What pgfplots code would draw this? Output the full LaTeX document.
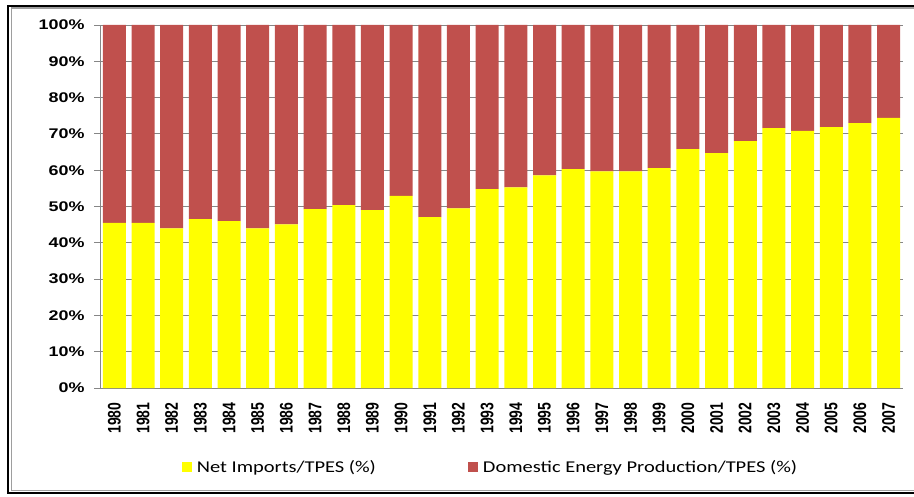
\documentclass[border=0pt]{standalone}
\usepackage{fontspec}
\usepackage{graphicx}
\usepackage{pgfplots}
\usepackage{pgfplotstable}
\pgfplotsset{compat=1.18}
\setmainfont{Liberation Sans}
\newfontfamily\tickfont[FakeStretch=1.28]{Liberation Sans}
\newfontfamily\legfont[FakeStretch=1.24]{Carlito}
\definecolor{redb}{HTML}{C0504D}
\definecolor{yel}{HTML}{FFFF00}
\definecolor{gridg}{HTML}{868686}

\pgfplotstableread{
year imports domestic
1980 45.5 54.5
1981 45.5 54.5
1982 44.0 56.0
1983 46.5 53.5
1984 46.0 54.0
1985 44.0 56.0
1986 45.1 54.9
1987 49.3 50.7
1988 50.4 49.6
1989 49.0 51.0
1990 52.9 47.1
1991 47.1 52.9
1992 49.5 50.5
1993 54.8 45.2
1994 55.3 44.7
1995 58.6 41.4
1996 60.3 39.7
1997 59.7 40.3
1998 59.7 40.3
1999 60.6 39.4
2000 65.8 34.2
2001 64.7 35.3
2002 68.0 32.0
2003 71.6 28.4
2004 70.8 29.2
2005 71.9 28.1
2006 73.0 27.0
2007 74.4 25.6
}\datatable

\begin{document}
\begin{tikzpicture}[x=1pt,y=1pt]
\useasboundingbox (0,0) rectangle (914,496);
\draw[black, line width=2pt] (8,3) rectangle (930,490);
\draw[gridg!80, line width=1.2pt] (11.5,5.5) rectangle (930,488);
\begin{axis}[
  at={(100pt,108pt)}, anchor=south west,
  scale only axis, width=803pt, height=363pt,
  ybar stacked, bar width=23pt,
  xmin=1979.5, xmax=2007.5, ymin=0, ymax=100,
  ytick={0,10,...,100},
  yticklabels={0\%,10\%,20\%,30\%,40\%,50\%,60\%,70\%,80\%,90\%,100\%},
  yticklabel style={font=\tickfont\bfseries\fontsize{14}{14}\selectfont, xshift=-6pt},
  ymajorgrids, grid style={gridg, line width=0.9pt},
  axis x line*=bottom, axis y line*=left,
  axis line style={gridg, line width=0.9pt, -},
  tick align=outside,
  major tick length=6pt,
  ytick style={gridg, line width=0.9pt},
  xtick={1980,...,2007},
  xticklabel={\scalebox{1}[1.3]{\pgfmathprintnumber[1000 sep={},assume math mode=true]{\tick}}},
  xticklabel style={font=\bfseries\fontsize{14}{14}\selectfont, rotate=90, anchor=east, xshift=-5pt},
  xtick style={draw=none},
  minor xtick={1979.5,1980.5,...,2007.5},
  minor tick length=5pt,
  minor x tick style={gridg, line width=0.9pt},
  legend columns=2,
  legend style={draw=none, fill=none, at={(0.098,-0.2176)}, anchor=west,
    font=\legfont\fontsize{16.5}{16.5}\selectfont,
    /tikz/every even column/.append style={column sep=90pt}},
  legend image code/.code={\fill[#1] (0pt,-5pt) rectangle (10pt,5pt); \path (13pt,0pt);},
]
\addplot[fill=yel, draw=none] table[x=year, y=imports] {\datatable};
\addplot[fill=redb, draw=none] table[x=year, y=domestic] {\datatable};
\legend{Net Imports/TPES (\%), Domestic Energy Production/TPES (\%)}
\end{axis}
\end{tikzpicture}
\end{document}
